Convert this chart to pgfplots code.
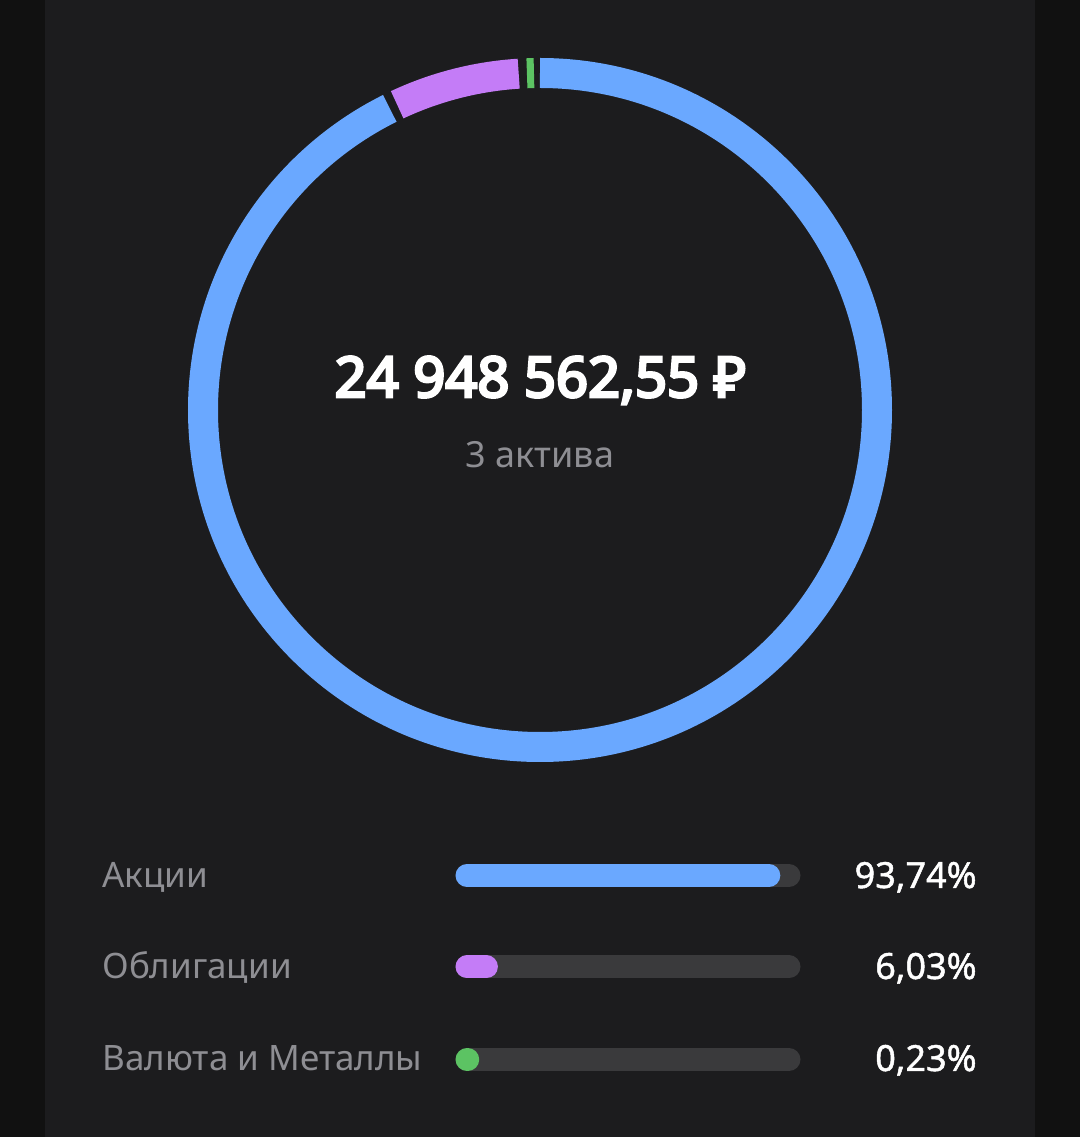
\documentclass[border=0pt]{standalone}
\usepackage{pgfplots}
\pgfplotsset{compat=1.18}
\usepackage{fontspec}
\setmainfont{Noto Sans}
\newfontfamily\bignum{Noto Sans}[FakeBold=5]
\newfontfamily\pctfont{Noto Sans}[FakeBold=1.3]
\definecolor{outerbg}{HTML}{111111}
\definecolor{panel}{HTML}{1C1C1E}
\definecolor{cblue}{HTML}{6AA8FF}
\definecolor{cpurple}{HTML}{C47CF7}
\definecolor{cgreen}{HTML}{5CC363}
\definecolor{track}{HTML}{3A3A3C}
\definecolor{lgray}{HTML}{8E8E93}
% shares (percent)
\def\pA{93.74}\def\pB{6.03}\def\pC{0.23}
\pgfmathsetmacro\gap{1.4}
\pgfmathsetmacro\avail{360-3*\gap}
\pgfmathsetmacro\aS{0}
\pgfmathsetmacro\aE{\aS+\pA/100*\avail}
\pgfmathsetmacro\bS{\aE+\gap}
\pgfmathsetmacro\bE{\bS+\pB/100*\avail}
\pgfmathsetmacro\cS{\bE+\gap}
\pgfmathsetmacro\cE{\cS+max(\pC/100*\avail,1.2)}
\begin{document}
\begin{tikzpicture}
\begin{axis}[
  scale only axis, width=540pt, height=568.5pt,
  xmin=0, xmax=1080, ymin=0, ymax=1137,
  hide axis, clip=false,
]
\fill[outerbg] (axis cs:0,0) rectangle (axis cs:1080,1137);
\fill[panel] (axis cs:45,0) rectangle (axis cs:1035,1137);
% donut
\foreach \s/\e/\c in {\aS/\aE/cblue,\bS/\bE/cpurple,\cS/\cE/cgreen}{
  \edef\tmp{\noexpand\draw[\c, line width=15pt] (axis cs:{540+337*cos(90-\s)},{727+337*sin(90-\s)}) arc[start angle={90-\s}, end angle={90-\e}, radius=168.5pt];}
  \tmp
}
\node[anchor=base, inner sep=0, text=white, font=\bignum\fontsize{28pt}{30pt}\selectfont] at (axis cs:540.5,740) {24 948 562,55 ₽};
\node[anchor=base, inner sep=0, text=lgray, font=\fontsize{18pt}{20pt}\selectfont] at (axis cs:540,669) {3 актива};
% bars
\addplot[track, line width=11.5pt, line cap=round] table[x expr={467+3.22*\thisrow{pct}}, y=yc] {
pct yc
0 261.5
100 261.5
};
\addplot[cblue, line width=11.5pt, line cap=round] table[x expr={467+3.22*\thisrow{pct}}, y=yc] {
pct yc
0 261.5
93.74 261.5
};
\addplot[track, line width=11.5pt, line cap=round] table[x expr={467+3.22*\thisrow{pct}}, y=yc] {
pct yc
0 170
100 170
};
\addplot[cpurple, line width=11.5pt, line cap=round] table[x expr={467+3.22*\thisrow{pct}}, y=yc] {
pct yc
0 170
6.03 170
};
\addplot[track, line width=11.5pt, line cap=round] table[x expr={467+3.22*\thisrow{pct}}, y=yc] {
pct yc
0 77.5
100 77.5
};
\addplot[cgreen, line width=11.5pt, line cap=round] table[x expr={467+3.22*\thisrow{pct}}, y=yc] {
pct yc
0 77.5
0.23 77.5
};
\node[anchor=base west, inner sep=0, text=lgray, font=\fontsize{17.5pt}{19pt}\selectfont] at (axis cs:102,249) {Акции};
\node[anchor=base west, inner sep=0, text=lgray, font=\fontsize{17.5pt}{19pt}\selectfont] at (axis cs:102,158) {Облигации};
\node[anchor=base west, inner sep=0, text=lgray, font=\fontsize{17.5pt}{19pt}\selectfont] at (axis cs:102,66) {Валюта и Металлы};
\node[anchor=base east, inner sep=0, text=white, font=\pctfont\fontsize{18pt}{20pt}\selectfont] at (axis cs:977,249) {93,74\%};
\node[anchor=base east, inner sep=0, text=white, font=\pctfont\fontsize{18pt}{20pt}\selectfont] at (axis cs:977,158) {6,03\%};
\node[anchor=base east, inner sep=0, text=white, font=\pctfont\fontsize{18pt}{20pt}\selectfont] at (axis cs:977,66) {0,23\%};
\end{axis}
\end{tikzpicture}
\end{document}
